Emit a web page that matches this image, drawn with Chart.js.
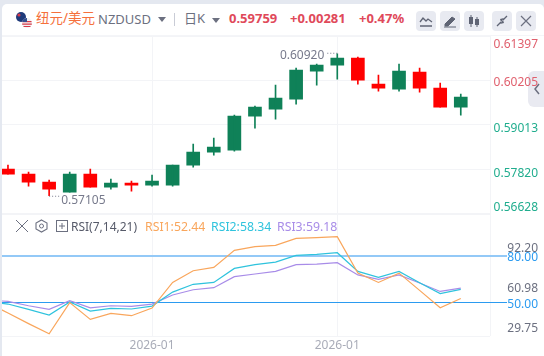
<!DOCTYPE html>
<html>
<head>
<meta charset="utf-8">
<script src="https://cdn.jsdelivr.net/npm/chart.js@4"></script>
<style>
html, body { margin: 0; padding: 0; background: #e4e8f0; }
body { width: 544px; height: 356px; overflow: hidden; position: relative; font-family: "Noto Sans", "Noto Sans CJK SC", sans-serif; }
#panel { position: absolute; left: 2px; top: 4px; width: 542px; height: 352px; background: #fff; border-radius: 5px 5px 0 0; }
#headLine { position: absolute; left: 2px; top: 35px; width: 542px; height: 1px; background: #f4f5f8; }
canvas { position: absolute; left: 0; top: 0; }
.t { position: absolute; white-space: nowrap; line-height: 16px; }
.btn { position: absolute; top: 11px; width: 20px; height: 20px; background: #e8eaf1; border-radius: 4px; }
.btn svg { display: block; }
#handle { position: absolute; left: 528px; top: 71px; width: 16px; height: 36px; background: #e9eaf1; border-radius: 6px 0 0 6px; }
</style>
</head>
<body>
<div id="panel"></div>
<div id="headLine"></div>

<svg style="position:absolute;left:15px;top:11px" width="18" height="18" viewBox="0 0 18 18">
  <circle cx="6" cy="6" r="5" fill="#1f3a7a"/><circle cx="4" cy="4" r="1.6" fill="#d8394a"/>
  <circle cx="12" cy="12" r="5" fill="#f2f2f2"/>
  <path d="M7.5 10h9v1.2h-9zM7.2 12.6h9.6v1.2H7.2zM8.5 15h7v1.1h-7z" fill="#d8394a"/>
  <path d="M8 8.6a5 5 0 0 1 4-1.6v4H7.2z" fill="#35508f"/>
</svg>
<div class="t" style="left:36px;top:10px;font-size:13.5px;color:#f5703c">纽元/美元</div>
<div class="t" style="left:98px;top:11px;font-size:13px;color:#6c7080">NZDUSD</div>
<svg style="position:absolute;left:158px;top:17px" width="8" height="5"><path d="M0 0h8L4 5z" fill="#6c7080"/></svg>
<div style="position:absolute;left:174px;top:13px;width:1px;height:13px;background:#c9ccd6"></div>
<div class="t" style="left:184px;top:10px;font-size:13px;color:#6c7080">日K</div>
<svg style="position:absolute;left:212px;top:18px" width="8" height="5"><path d="M0 0h8L4 5z" fill="#6c7080"/></svg>
<div class="t" style="left:229px;top:10px;font-size:13px;font-weight:700;color:#e0495a">0.59759</div>
<div class="t" style="left:290px;top:10px;font-size:13px;font-weight:700;color:#e0495a">+0.00281</div>
<div class="t" style="left:359px;top:10px;font-size:13px;font-weight:700;color:#e0495a">+0.47%</div>

<div class="btn" style="left:416px"><svg width="20" height="20"><path d="M4 11l3-4 3 3 2-2 4 3M4 15h12" fill="none" stroke="#5f6474" stroke-width="1.3"/></svg></div>
<div class="btn" style="left:440px"><svg width="20" height="20"><path d="M5 13l7-7 3 2-7 7H5zM4 16h12" fill="#5f6474" stroke="#5f6474"/></svg></div>
<div class="btn" style="left:464px"><svg width="20" height="20"><path d="M7 4v12M13 6v10" stroke="#5f6474"/><rect x="5" y="6" width="4" height="7" fill="#5f6474"/><rect x="11" y="8" width="4" height="6" fill="#5f6474"/></svg></div>
<div class="btn" style="left:492px"><svg width="20" height="20"><path d="M15 5l-4 4M5 15l4-4" stroke="#5f6474" stroke-width="1.3"/><path d="M8 8l4-1-3 4zM12 12l-4 1 3-4z" fill="#5f6474"/></svg></div>
<div class="btn" style="left:516px"><svg width="20" height="20"><path d="M5 5l10 10M15 5L5 15" stroke="#6c7080" stroke-width="1.2"/></svg></div>

<div id="handle"><svg width="16" height="36"><path d="M11 13l-4 5 4 5" fill="none" stroke="#6c7080" stroke-width="1.5"/></svg></div>

<canvas id="priceChart" width="544" height="356"></canvas>
<canvas id="rsiChart" width="544" height="356"></canvas>

<svg style="position:absolute;left:16px;top:220px" width="12" height="12"><path d="M0 0l12 12M12 0L0 12" stroke="#6c7080" stroke-width="1"/></svg>
<svg style="position:absolute;left:35px;top:219px" width="13" height="14"><path d="M6.5 1l5.5 3v6l-5.5 3L1 10V4z" fill="none" stroke="#6c7080" stroke-width="1.1"/><circle cx="6.5" cy="7" r="2" fill="none" stroke="#6c7080"/></svg>
<svg style="position:absolute;left:56px;top:220px" width="12" height="12"><rect x=".5" y=".5" width="11" height="11" fill="none" stroke="#6c7080"/><path d="M3 6h6M6 3v6" stroke="#6c7080"/></svg>
<div class="t" style="left:71px;top:219px;font-size:12px;color:#565a69">RSI(7,14,21)</div>
<div class="t" style="left:145px;top:219px;font-size:12.3px;color:#f9a65c">RSI1:52.44</div>
<div class="t" style="left:211px;top:219px;font-size:12.3px;color:#2fc3dd">RSI2:58.34</div>
<div class="t" style="left:277px;top:219px;font-size:12.3px;color:#a88ce8">RSI3:59.18</div>

<script>
// --- Price data (daily candles) ---
const candleOpen  = [0.57820, 0.57686, 0.57471, 0.57202, 0.57686, 0.57336, 0.57444, 0.57390, 0.57390, 0.57928, 0.58277, 0.58331, 0.59245, 0.59433, 0.59702, 0.60455, 0.60616, 0.60805, 0.60106, 0.59971, 0.60428, 0.59998, 0.59487];
const candleClose = [0.57686, 0.57471, 0.57282, 0.57686, 0.57336, 0.57444, 0.57390, 0.57497, 0.57928, 0.58277, 0.58412, 0.59245, 0.59487, 0.59729, 0.60482, 0.60616, 0.60805, 0.60213, 0.59998, 0.60455, 0.59998, 0.59487, 0.59759];
const candleHigh  = [0.57928, 0.57739, 0.57524, 0.57739, 0.57820, 0.57551, 0.57497, 0.57659, 0.57928, 0.58492, 0.58654, 0.59272, 0.59514, 0.60079, 0.60536, 0.60643, 0.60920, 0.60831, 0.60348, 0.60643, 0.60536, 0.60132, 0.59837];
const candleLow   = [0.57686, 0.57363, 0.57105, 0.57202, 0.57336, 0.57282, 0.57229, 0.57363, 0.57363, 0.57874, 0.58196, 0.58304, 0.58922, 0.59164, 0.59568, 0.60079, 0.60240, 0.60106, 0.59917, 0.59917, 0.59890, 0.59487, 0.59272];

// --- RSI data ---
// the first value belongs to the candle just left of the visible window
const rsi1 = [49.9, 43.1, 36.3, 29.8, 49.8, 39.0, 42.9, 41.4, 46.3, 62.8, 70.3, 72.5, 83.4, 85.8, 86.6, 91.1, 91.6, 92.2, 68.8, 62.8, 68.8, 57.7, 46.5, 52.44];
const rsi2 = [50.6, 48.9, 45.5, 41.8, 50.2, 44.4, 46.1, 45.7, 47.6, 56.6, 61.6, 62.8, 71.8, 74.2, 75.9, 80.2, 80.9, 81.9, 69.9, 66.1, 69.9, 62.6, 55.6, 58.34];
const rsi3 = [51.5, 50.6, 47.8, 45.5, 51.1, 46.5, 47.8, 47.4, 48.9, 54.7, 58.1, 59.4, 66.5, 68.2, 69.9, 74.2, 74.6, 75.5, 67.6, 64.8, 67.6, 62.4, 57.0, 59.18];
const rsiUpper = 80;
const rsiLower = 50;

// --- Axis ticks ---
const priceTicks = [0.61397, 0.60205, 0.59013, 0.57820, 0.56628];
const priceTickLabels = ['0.61397', '0.60205', '0.59013', '0.57820', '0.56628'];
const rsiTickLabels = ['92.20', '80.00', '60.98', '50.00', '29.75'];
const dateTicks = [7, 16];
const dateTickLabels = ['2026-01', '2026-01'];
const highestIndex = 16;
const lowestIndex = 2;

// --- Look ---
const upColor = '#0f8158';
const downColor = '#ff0000';
const gridColor = '#f3f4f7';
const axisFont = '12px "Noto Sans"';
const xMin = -0.29;
const xMax = 23.42;

const isUp = i => candleClose[i] >= candleOpen[i];
const candleColor = ctx => isUp(ctx.dataIndex) ? upColor : downColor;

function drawRightLabels(chart, labels, yFor, colorFor) {
    const c = chart.ctx;
    c.save();
    c.font = axisFont;
    c.textBaseline = 'middle';
    c.textAlign = 'right';
    labels.forEach((text, i) => {
        c.fillStyle = colorFor(i);
        c.fillText(text, 538, yFor(i));
    });
    c.restore();
}

// --- Price panel ---
const priceLabelNudge = [8.5, 2.5, 3.5, 4.5, -5.5];
new Chart(document.getElementById('priceChart'), {
    data: {
        datasets: [
            {
                type: 'bar',
                data: candleHigh.map((h, i) => ({ x: i, y: [candleLow[i], h] })),
                backgroundColor: candleColor,
                barThickness: 1,
                grouped: false
            },
            {
                type: 'bar',
                data: candleOpen.map((o, i) => ({ x: i, y: [o, candleClose[i]] })),
                backgroundColor: candleColor,
                barThickness: 13,
                grouped: false
            }
        ]
    },
    options: {
        responsive: false,
        animation: false,
        layout: { padding: { left: 2, right: 54, top: 36, bottom: 142.5 } },
        plugins: { legend: { display: false }, tooltip: { enabled: false } },
        scales: {
            x: {
                type: 'linear',
                offset: false,
                min: xMin,
                max: xMax,
                afterBuildTicks: s => { s.ticks = dateTicks.map(v => ({ value: v })); },
                ticks: { display: false },
                grid: { color: gridColor, drawTicks: false, offset: false },
                border: { display: false }
            },
            y: {
                position: 'right',
                min: priceTicks[4],
                max: priceTicks[0],
                afterBuildTicks: s => { s.ticks = priceTicks.map(v => ({ value: v })); },
                afterFit: s => { s.width = 0; },
                ticks: { display: false },
                grid: { color: gridColor, drawTicks: false },
                border: { display: false }
            }
        }
    },
    plugins: [{
        id: 'priceLabels',
        afterDraw(chart) {
            const y = chart.scales.y;
            const x = chart.scales.x;
            const c = chart.ctx;
            drawRightLabels(chart, priceTickLabels, i => y.getPixelForValue(priceTicks[i]) + priceLabelNudge[i], i => i < 2 ? '#e0606e' : '#20ad8e');

            // right edge of the plot
            c.fillStyle = gridColor;
            c.fillRect(chart.chartArea.right, 36, 1, 300);

            // highest / lowest markers
            c.font = axisFont;
            c.fillStyle = '#777a8c';
            c.textBaseline = 'middle';
            c.textAlign = 'right';
            const hx = x.getPixelForValue(highestIndex);
            const hy = y.getPixelForValue(candleHigh[highestIndex]);
            c.fillText(candleHigh[highestIndex].toFixed(5), hx - 13, hy + 2);
            c.fillRect(hx - 10, hy - 1, 1, 1);
            c.fillRect(hx - 7, hy - 1, 1, 1);
            c.fillRect(hx - 4, hy - 1, 1, 1);
            c.fillRect(hx - 1, hy - 1, 1, 1);
            c.textAlign = 'left';
            const lx = x.getPixelForValue(lowestIndex);
            const ly = y.getPixelForValue(candleLow[lowestIndex]);
            c.fillText(candleLow[lowestIndex].toFixed(5), lx + 12, ly + 5);
            c.fillRect(lx, ly, 1, 1);
            c.fillRect(lx + 3, ly, 1, 1);
            c.fillRect(lx + 6, ly, 1, 1);
            c.fillRect(lx + 9, ly, 1, 1);
        }
    }]
});

// --- RSI panel ---
const rsiLabelPixel = [249, 257.5, 289, 304.5, 329];
const lineStyle = color => ({ type: 'line', borderColor: color, borderWidth: 1.2, pointRadius: 0, tension: 0 });
const rsiPoints = values => values.map((v, i) => ({ x: i - 1, y: v }));
new Chart(document.getElementById('rsiChart'), {
    data: {
        datasets: [
            { ...lineStyle('#f9a65c'), data: rsiPoints(rsi1) },
            { ...lineStyle('#2fc3dd'), data: rsiPoints(rsi2) },
            { ...lineStyle('#a88ce8'), data: rsiPoints(rsi3) }
        ]
    },
    options: {
        responsive: false,
        animation: false,
        layout: { padding: { left: 2, right: 54, top: 214, bottom: 0 } },
        plugins: { legend: { display: false }, tooltip: { enabled: false } },
        scales: {
            x: {
                type: 'linear',
                min: xMin,
                max: xMax,
                afterBuildTicks: s => { s.ticks = dateTicks.map(v => ({ value: v })); },
                afterFit: s => { s.height = 20; },
                ticks: {
                    color: '#a9acb8',
                    font: { family: 'Noto Sans', size: 12 },
                    maxRotation: 0,
                    padding: 2,
                    callback: (v, i) => dateTickLabels[i]
                },
                grid: { color: gridColor, drawTicks: false },
                border: { display: false }
            },
            y: {
                position: 'right',
                // range puts the 80 and 50 guide lines at 255.7 and 302.3 px
                min: 28.35,
                max: 106.8,
                afterBuildTicks: s => { s.ticks = []; },
                afterFit: s => { s.width = 0; },
                ticks: { display: false },
                grid: { display: false },
                border: { display: false }
            }
        }
    },
    plugins: [{
        id: 'rsiLevels',
        beforeDatasetsDraw(chart) {
            const y = chart.scales.y;
            const c = chart.ctx;
            const a = chart.chartArea;
            c.save();
            c.fillStyle = gridColor;
            c.fillRect(a.left, a.top, a.right - a.left, 1);
            c.fillRect(a.left, a.bottom, a.right - a.left, 1);
            c.fillStyle = '#93c9f7';
            c.fillRect(a.left, Math.round(y.getPixelForValue(rsiUpper)) - 1, 505, 2);
            c.fillStyle = '#2b9bf0';
            c.fillRect(a.left, Math.round(y.getPixelForValue(rsiLower)), 505, 1);
            c.restore();
        },
        afterDraw(chart) {
            drawRightLabels(chart, rsiTickLabels, i => rsiLabelPixel[i], i => (i === 1 || i === 3) ? '#2b9bf0' : '#6c7080');
        }
    }]
});
</script>
</body>
</html>
